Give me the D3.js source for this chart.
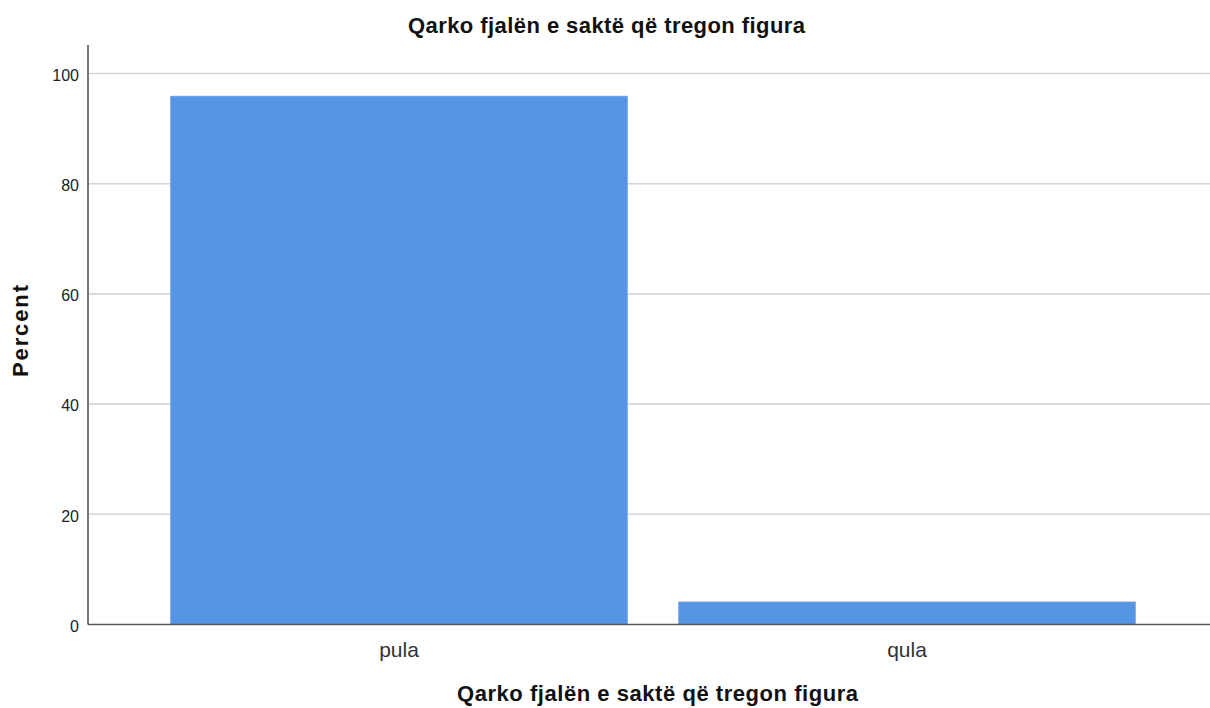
<!DOCTYPE html>
<html><head><meta charset="utf-8">
<script src="https://cdn.jsdelivr.net/npm/d3@7"></script>
<style>body{margin:0;background:#fff;}svg{display:block;font-family:"Liberation Sans",Arial,sans-serif;}</style>
</head><body>
<svg id="c" width="1210" height="708"></svg>
<script>
const categories = ["pula", "qula"];
const percents = [95.9, 4.1];
const yTicks = [0, 20, 40, 60, 80, 100];
const chartTitle = "Qarko fjalën e saktë që tregon figura";
const xTitle = "Qarko fjalën e saktë që tregon figura";
const yTitle = "Percent";

(function () {
const svg = d3.select("#c");
const mLeft = 88, mRight = 1210, mTop = 45, mBottom = 624.5;
const y = d3.scaleLinear().domain([0, 100]).range([mBottom, 73.5]);
const x = d3.scaleBand().domain(categories).range([145, 1161]).paddingInner(0.1).paddingOuter(0.05);

// gridlines
svg.append("g").selectAll("line").data(yTicks.filter(d => d > 0)).join("line")
  .attr("x1", mLeft).attr("x2", mRight)
  .attr("y1", d => y(d)).attr("y2", d => y(d))
  .attr("stroke", "#d6d6d6").attr("stroke-width", 1.6);

// bars
svg.append("g").selectAll("rect").data(categories).join("rect")
  .attr("x", d => x(d)).attr("width", x.bandwidth())
  .attr("y", (d, i) => y(percents[i])).attr("height", (d, i) => mBottom - y(percents[i]))
  .attr("fill", "#5595e3").attr("stroke", "#7aaeec").attr("stroke-width", 0.6);

// y axis
const ya = d3.axisLeft(y).tickValues(yTicks).tickSize(0).tickPadding(9);
const gy = svg.append("g").attr("transform", `translate(${mLeft},0)`).call(ya);
gy.select(".domain").remove();
gy.selectAll(".tick text").attr("font-size", 16).attr("dy", "0.42em").attr("fill", "#222")
  .attr("font-family", "Liberation Sans, Arial, sans-serif");
svg.append("line").attr("x1", mLeft).attr("x2", mLeft).attr("y1", mTop).attr("y2", mBottom)
  .attr("stroke", "#777").attr("stroke-width", 2);

// x axis
const xa = d3.axisBottom(x).tickSize(0).tickPadding(18);
const gx = svg.append("g").attr("transform", `translate(0,${mBottom})`).call(xa);
gx.select(".domain").remove();
gx.selectAll(".tick text").attr("font-size", 21).attr("fill", "#333")
  .attr("font-family", "Liberation Sans, Arial, sans-serif");
svg.append("line").attr("x1", mLeft).attr("x2", mRight).attr("y1", mBottom).attr("y2", mBottom)
  .attr("stroke", "#555").attr("stroke-width", 1.6);

// titles
svg.append("text").attr("x", 606.5).attr("y", 33).attr("text-anchor", "middle")
  .attr("font-size", 22).attr("font-weight", "bold").attr("fill", "#111")
  .attr("textLength", 397).attr("lengthAdjust", "spacing").text(chartTitle);
svg.append("text").attr("x", 657.5).attr("y", 701).attr("text-anchor", "middle")
  .attr("font-size", 22).attr("font-weight", "bold").attr("fill", "#111")
  .attr("textLength", 401).attr("lengthAdjust", "spacing").text(xTitle);
svg.append("text").attr("transform", "translate(28,331) rotate(-90)").attr("text-anchor", "middle")
  .attr("font-size", 22).attr("font-weight", "bold").attr("fill", "#111")
  .attr("textLength", 92).attr("lengthAdjust", "spacing").text(yTitle);
})();
</script>
</body></html>
